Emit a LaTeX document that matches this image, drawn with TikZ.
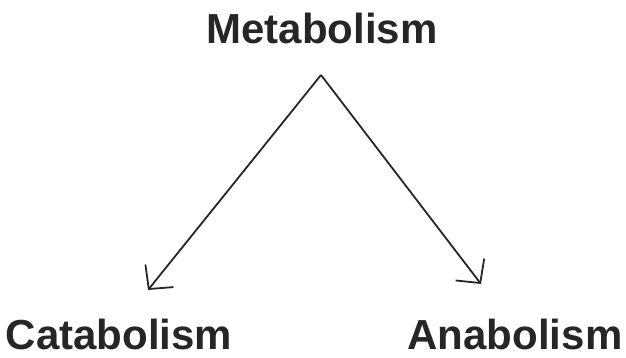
\documentclass[tikz,border=0pt]{standalone}
\usepackage{fontspec}
\setmainfont{Liberation Sans}
\usepackage{xcolor}
\usetikzlibrary{arrows.meta,positioning}

\begin{document}
\begin{tikzpicture}[
  x=1pt,
  y=-1pt,
  term/.style={inner sep=0pt, anchor=base, font=\fontsize{42}{42}\selectfont\bfseries, text=black!85},
  arrow/.style={-{Straight Barb[length=17pt, width=36pt, line width=1.8pt]}, line width=1.8pt, color=black!85}
]
  \useasboundingbox (0,0) rectangle (626,358);
  \node[term] (metabolism) at (322,44) {Metabolism};
  \node[term] (catabolism) at (119,349) {Catabolism};
  \node[term] (anabolism) at (515,349) {Anabolism};

  \coordinate (split) at (321,75);
  \coordinate (catabEnd) at (148,290);
  \coordinate (anabEnd) at (481,284);
  \draw[arrow] (split) -- (catabEnd);
  \draw[arrow] (split) -- (anabEnd);
\end{tikzpicture}
\end{document}
